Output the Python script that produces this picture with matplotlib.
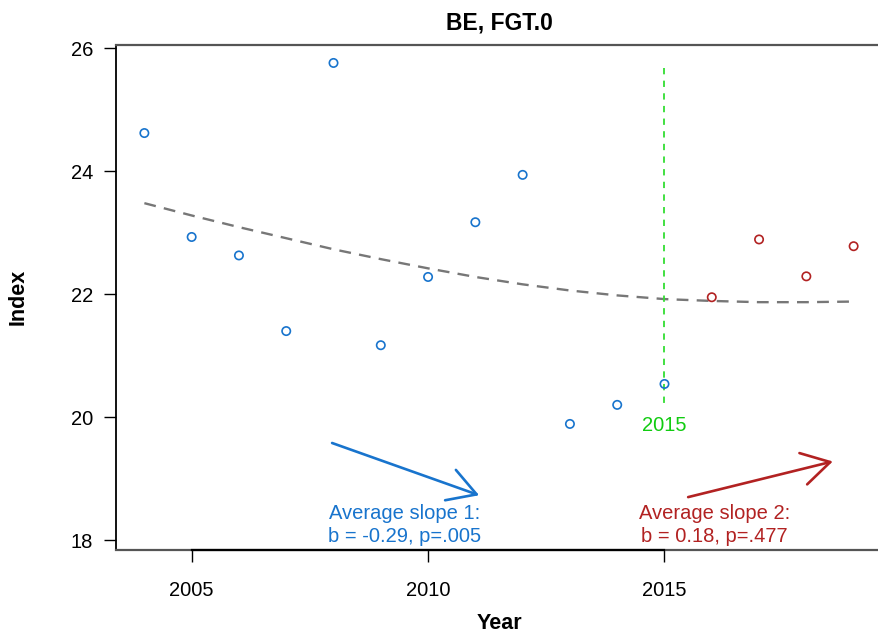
import matplotlib.pyplot as plt
import numpy as np

plt.rcParams['font.family'] = ['Liberation Sans', 'DejaVu Sans']

# Data
years = [2004, 2005, 2006, 2007, 2008, 2009, 2010, 2011,
         2012, 2013, 2014, 2015, 2016, 2017, 2018, 2019]
index = [24.62, 22.93, 22.63, 21.40, 25.76, 21.17, 22.28, 23.17,
         23.94, 19.89, 20.20, 20.54, 21.95, 22.89, 22.29, 22.78]
trend = [23.48, 23.28, 23.09, 22.91, 22.73, 22.57, 22.42, 22.28,
         22.16, 22.06, 21.98, 21.92, 21.89, 21.87, 21.87, 21.88]
break_year = 2015
slope1 = (-0.29, '.005')
slope2 = (0.18, '.477')

blue = '#1874CD'
red = '#B22222'

years = np.array(years)
index = np.array(index)
pre = years <= break_year

fig = plt.figure(figsize=(8.79, 6.34), dpi=100)
ax = fig.add_axes([116/879, 1-550/634, 766/879, (550-44.5)/634])

ax.scatter(years[pre], index[pre], s=36, facecolors='none', edgecolors=blue, linewidths=1.2, zorder=3)
ax.scatter(years[~pre], index[~pre], s=36, facecolors='none', edgecolors=red, linewidths=1.2, zorder=3)
ax.plot(years, trend, color='#777777', lw=1.7, dashes=(5, 3.5))

# breakpoint line
ax.plot([break_year, break_year], [25.67, 20.14], color='#33DD33', lw=1.3, dashes=(3.5, 3.5))
ax.text(break_year, 19.87, str(break_year), color='#11CC11', fontsize=14.5, ha='center', va='center')

# slope arrows
astyle = '->,head_length=1.0,head_width=0.58'
ax.annotate('', xy=(2011.08, 18.73), xytext=(2007.97, 19.58),
            arrowprops=dict(arrowstyle=astyle, color=blue, lw=1.9,
                            mutation_scale=20, shrinkA=0, shrinkB=0))
ax.annotate('', xy=(2018.56, 19.28), xytext=(2015.5, 18.70),
            arrowprops=dict(arrowstyle=astyle, color=red, lw=1.9,
                            mutation_scale=20, shrinkA=0, shrinkB=0))
ax.text(2009.51, 18.25, 'Average slope 1:\nb = %.2f, p=%s' % slope1, color=blue, fontsize=14.5,
        ha='center', va='center', linespacing=1.25)
ax.text(2016.05, 18.25, 'Average slope 2:\nb = %.2f, p=%s' % slope2, color=red, fontsize=14.5,
        ha='center', va='center', linespacing=1.25)

ax.set_xlim(2003.4, 2019.6)
ax.set_ylim(17.84, 26.06)
ax.set_xticks([2005, 2010, 2015])
ax.set_yticks([18, 20, 22, 24, 26])
ax.tick_params(length=8.5, width=1, labelsize=14.5)
ax.tick_params(axis='x', pad=14)
ax.tick_params(axis='y', pad=8)

for s in ['top', 'bottom']:
    ax.spines[s].set_color('#555555')
    ax.spines[s].set_linewidth(1.6)
ax.spines['right'].set_visible(False)
ax.spines['left'].set_color('black')
ax.spines['left'].set_linewidth(1.3)
ax.plot([2005, 2015], [0, 0], color='black', lw=1.6, transform=ax.get_xaxis_transform(),
        clip_on=False, zorder=5)

ax.set_title('BE, FGT.0', fontsize=16.5, fontweight='bold', pad=11)
ax.set_xlabel('Year', fontsize=15.5, fontweight='bold', labelpad=9)
ax.set_ylabel('Index', fontsize=15.5, fontweight='bold', labelpad=30)

plt.savefig('out.png', dpi=100)
plt.close()
